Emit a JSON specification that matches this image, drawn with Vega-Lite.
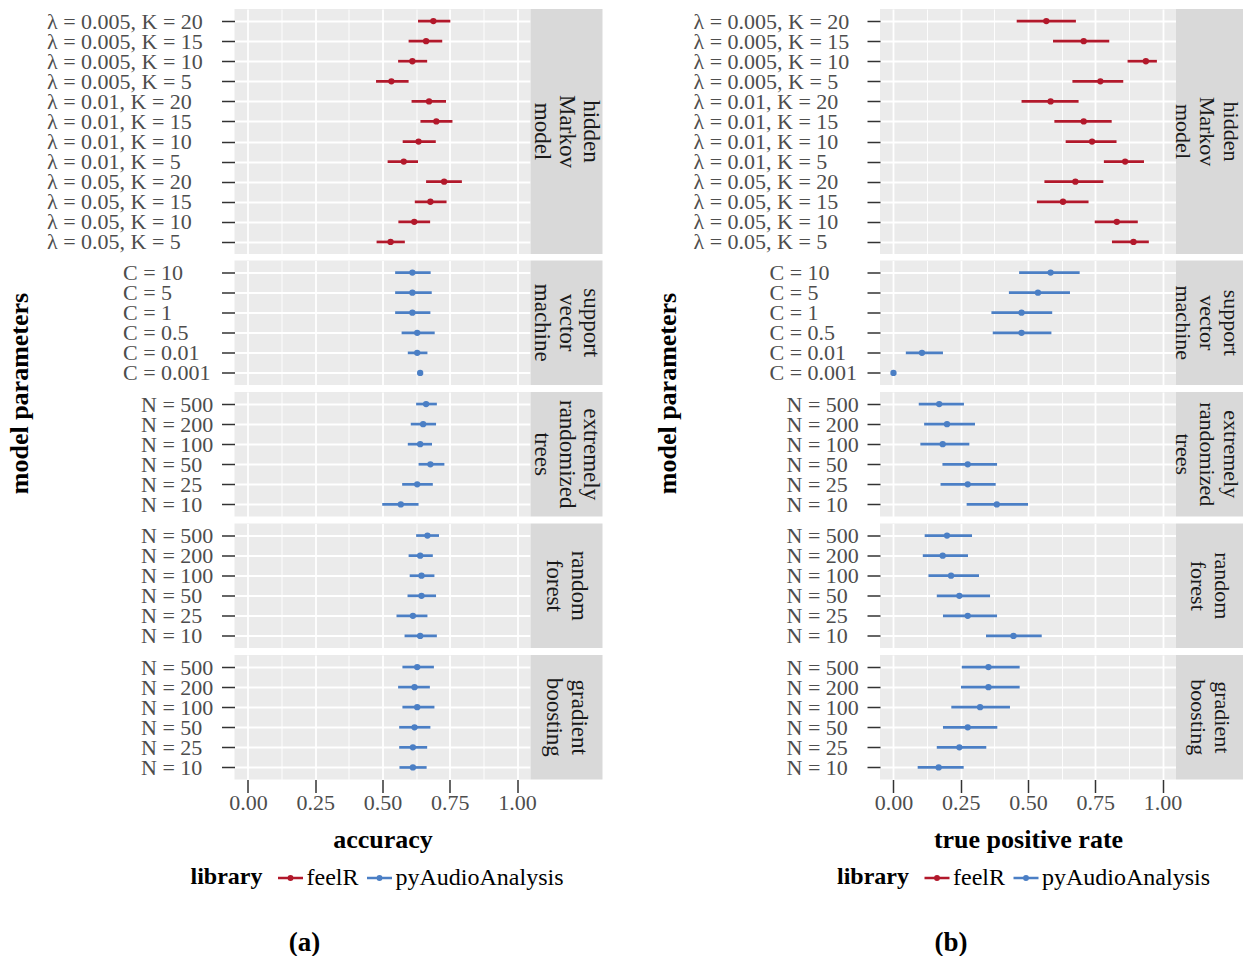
{
  "$schema": "https://vega.github.io/schema/vega-lite/v6.json",
  "padding": {"left": 6.5, "top": 9, "right": 0, "bottom": 0},
  "datasets": {
    "acc": [
      {"fig":"a","model":"HMM","lib":"feelR","param":"λ = 0.005, K = 20","est":0.689,"lo":0.632,"hi":0.752},
      {"fig":"a","model":"HMM","lib":"feelR","param":"λ = 0.005, K = 15","est":0.662,"lo":0.597,"hi":0.722},
      {"fig":"a","model":"HMM","lib":"feelR","param":"λ = 0.005, K = 10","est":0.611,"lo":0.558,"hi":0.666},
      {"fig":"a","model":"HMM","lib":"feelR","param":"λ = 0.005, K = 5","est":0.533,"lo":0.476,"hi":0.597},
      {"fig":"a","model":"HMM","lib":"feelR","param":"λ = 0.01, K = 20","est":0.673,"lo":0.608,"hi":0.736},
      {"fig":"a","model":"HMM","lib":"feelR","param":"λ = 0.01, K = 15","est":0.700,"lo":0.641,"hi":0.760},
      {"fig":"a","model":"HMM","lib":"feelR","param":"λ = 0.01, K = 10","est":0.634,"lo":0.575,"hi":0.698},
      {"fig":"a","model":"HMM","lib":"feelR","param":"λ = 0.01, K = 5","est":0.579,"lo":0.519,"hi":0.632},
      {"fig":"a","model":"HMM","lib":"feelR","param":"λ = 0.05, K = 20","est":0.729,"lo":0.662,"hi":0.795},
      {"fig":"a","model":"HMM","lib":"feelR","param":"λ = 0.05, K = 15","est":0.678,"lo":0.620,"hi":0.738},
      {"fig":"a","model":"HMM","lib":"feelR","param":"λ = 0.05, K = 10","est":0.618,"lo":0.559,"hi":0.677},
      {"fig":"a","model":"HMM","lib":"feelR","param":"λ = 0.05, K = 5","est":0.530,"lo":0.478,"hi":0.583},
      {"fig":"a","model":"SVM","lib":"pyAudioAnalysis","param":"C = 10","est":0.611,"lo":0.547,"hi":0.679},
      {"fig":"a","model":"SVM","lib":"pyAudioAnalysis","param":"C = 5","est":0.611,"lo":0.547,"hi":0.683},
      {"fig":"a","model":"SVM","lib":"pyAudioAnalysis","param":"C = 1","est":0.611,"lo":0.547,"hi":0.678},
      {"fig":"a","model":"SVM","lib":"pyAudioAnalysis","param":"C = 0.5","est":0.629,"lo":0.571,"hi":0.694},
      {"fig":"a","model":"SVM","lib":"pyAudioAnalysis","param":"C = 0.01","est":0.629,"lo":0.594,"hi":0.667},
      {"fig":"a","model":"SVM","lib":"pyAudioAnalysis","param":"C = 0.001","est":0.640,"lo":0.640,"hi":0.640},
      {"fig":"a","model":"ERT","lib":"pyAudioAnalysis","param":"N = 500","est":0.662,"lo":0.625,"hi":0.702},
      {"fig":"a","model":"ERT","lib":"pyAudioAnalysis","param":"N = 200","est":0.651,"lo":0.605,"hi":0.699},
      {"fig":"a","model":"ERT","lib":"pyAudioAnalysis","param":"N = 100","est":0.640,"lo":0.594,"hi":0.684},
      {"fig":"a","model":"ERT","lib":"pyAudioAnalysis","param":"N = 50","est":0.678,"lo":0.634,"hi":0.730},
      {"fig":"a","model":"ERT","lib":"pyAudioAnalysis","param":"N = 25","est":0.629,"lo":0.573,"hi":0.687},
      {"fig":"a","model":"ERT","lib":"pyAudioAnalysis","param":"N = 10","est":0.568,"lo":0.499,"hi":0.634},
      {"fig":"a","model":"RF","lib":"pyAudioAnalysis","param":"N = 500","est":0.667,"lo":0.625,"hi":0.710},
      {"fig":"a","model":"RF","lib":"pyAudioAnalysis","param":"N = 200","est":0.640,"lo":0.597,"hi":0.687},
      {"fig":"a","model":"RF","lib":"pyAudioAnalysis","param":"N = 100","est":0.645,"lo":0.601,"hi":0.693},
      {"fig":"a","model":"RF","lib":"pyAudioAnalysis","param":"N = 50","est":0.645,"lo":0.593,"hi":0.699},
      {"fig":"a","model":"RF","lib":"pyAudioAnalysis","param":"N = 25","est":0.613,"lo":0.552,"hi":0.667},
      {"fig":"a","model":"RF","lib":"pyAudioAnalysis","param":"N = 10","est":0.640,"lo":0.582,"hi":0.702},
      {"fig":"a","model":"GB","lib":"pyAudioAnalysis","param":"N = 500","est":0.629,"lo":0.574,"hi":0.691},
      {"fig":"a","model":"GB","lib":"pyAudioAnalysis","param":"N = 200","est":0.619,"lo":0.558,"hi":0.676},
      {"fig":"a","model":"GB","lib":"pyAudioAnalysis","param":"N = 100","est":0.629,"lo":0.574,"hi":0.693},
      {"fig":"a","model":"GB","lib":"pyAudioAnalysis","param":"N = 50","est":0.619,"lo":0.562,"hi":0.678},
      {"fig":"a","model":"GB","lib":"pyAudioAnalysis","param":"N = 25","est":0.613,"lo":0.562,"hi":0.666},
      {"fig":"a","model":"GB","lib":"pyAudioAnalysis","param":"N = 10","est":0.613,"lo":0.563,"hi":0.664},
      {"fig":"b","model":"HMM","lib":"feelR","param":"λ = 0.005, K = 20","est":0.568,"lo":0.458,"hi":0.678},
      {"fig":"b","model":"HMM","lib":"feelR","param":"λ = 0.005, K = 15","est":0.707,"lo":0.593,"hi":0.802},
      {"fig":"b","model":"HMM","lib":"feelR","param":"λ = 0.005, K = 10","est":0.938,"lo":0.870,"hi":0.979},
      {"fig":"b","model":"HMM","lib":"feelR","param":"λ = 0.005, K = 5","est":0.769,"lo":0.665,"hi":0.854},
      {"fig":"b","model":"HMM","lib":"feelR","param":"λ = 0.01, K = 20","est":0.584,"lo":0.476,"hi":0.688},
      {"fig":"b","model":"HMM","lib":"feelR","param":"λ = 0.01, K = 15","est":0.707,"lo":0.598,"hi":0.811},
      {"fig":"b","model":"HMM","lib":"feelR","param":"λ = 0.01, K = 10","est":0.738,"lo":0.640,"hi":0.829},
      {"fig":"b","model":"HMM","lib":"feelR","param":"λ = 0.01, K = 5","est":0.861,"lo":0.782,"hi":0.931},
      {"fig":"b","model":"HMM","lib":"feelR","param":"λ = 0.05, K = 20","est":0.676,"lo":0.561,"hi":0.780},
      {"fig":"b","model":"HMM","lib":"feelR","param":"λ = 0.05, K = 15","est":0.630,"lo":0.533,"hi":0.725},
      {"fig":"b","model":"HMM","lib":"feelR","param":"λ = 0.05, K = 10","est":0.830,"lo":0.748,"hi":0.908},
      {"fig":"b","model":"HMM","lib":"feelR","param":"λ = 0.05, K = 5","est":0.892,"lo":0.812,"hi":0.949},
      {"fig":"b","model":"SVM","lib":"pyAudioAnalysis","param":"C = 10","est":0.584,"lo":0.467,"hi":0.692},
      {"fig":"b","model":"SVM","lib":"pyAudioAnalysis","param":"C = 5","est":0.537,"lo":0.429,"hi":0.656},
      {"fig":"b","model":"SVM","lib":"pyAudioAnalysis","param":"C = 1","est":0.476,"lo":0.364,"hi":0.590},
      {"fig":"b","model":"SVM","lib":"pyAudioAnalysis","param":"C = 0.5","est":0.476,"lo":0.369,"hi":0.587},
      {"fig":"b","model":"SVM","lib":"pyAudioAnalysis","param":"C = 0.01","est":0.106,"lo":0.046,"hi":0.184},
      {"fig":"b","model":"SVM","lib":"pyAudioAnalysis","param":"C = 0.001","est":0.0,"lo":0.0,"hi":0.0},
      {"fig":"b","model":"ERT","lib":"pyAudioAnalysis","param":"N = 500","est":0.170,"lo":0.094,"hi":0.262},
      {"fig":"b","model":"ERT","lib":"pyAudioAnalysis","param":"N = 200","est":0.199,"lo":0.114,"hi":0.303},
      {"fig":"b","model":"ERT","lib":"pyAudioAnalysis","param":"N = 100","est":0.183,"lo":0.100,"hi":0.282},
      {"fig":"b","model":"ERT","lib":"pyAudioAnalysis","param":"N = 50","est":0.276,"lo":0.182,"hi":0.385},
      {"fig":"b","model":"ERT","lib":"pyAudioAnalysis","param":"N = 25","est":0.276,"lo":0.175,"hi":0.380},
      {"fig":"b","model":"ERT","lib":"pyAudioAnalysis","param":"N = 10","est":0.384,"lo":0.272,"hi":0.500},
      {"fig":"b","model":"RF","lib":"pyAudioAnalysis","param":"N = 500","est":0.199,"lo":0.116,"hi":0.292},
      {"fig":"b","model":"RF","lib":"pyAudioAnalysis","param":"N = 200","est":0.183,"lo":0.109,"hi":0.277},
      {"fig":"b","model":"RF","lib":"pyAudioAnalysis","param":"N = 100","est":0.214,"lo":0.130,"hi":0.318},
      {"fig":"b","model":"RF","lib":"pyAudioAnalysis","param":"N = 50","est":0.245,"lo":0.161,"hi":0.359},
      {"fig":"b","model":"RF","lib":"pyAudioAnalysis","param":"N = 25","est":0.276,"lo":0.184,"hi":0.385},
      {"fig":"b","model":"RF","lib":"pyAudioAnalysis","param":"N = 10","est":0.446,"lo":0.344,"hi":0.551},
      {"fig":"b","model":"GB","lib":"pyAudioAnalysis","param":"N = 500","est":0.353,"lo":0.254,"hi":0.469},
      {"fig":"b","model":"GB","lib":"pyAudioAnalysis","param":"N = 200","est":0.353,"lo":0.251,"hi":0.469},
      {"fig":"b","model":"GB","lib":"pyAudioAnalysis","param":"N = 100","est":0.322,"lo":0.215,"hi":0.433},
      {"fig":"b","model":"GB","lib":"pyAudioAnalysis","param":"N = 50","est":0.276,"lo":0.184,"hi":0.386},
      {"fig":"b","model":"GB","lib":"pyAudioAnalysis","param":"N = 25","est":0.245,"lo":0.161,"hi":0.345},
      {"fig":"b","model":"GB","lib":"pyAudioAnalysis","param":"N = 10","est":0.168,"lo":0.090,"hi":0.261}
    ],
    "strips": [
      {"model":"HMM","label":"hidden\nMarkov\nmodel"},
      {"model":"SVM","label":"support\nvector\nmachine"},
      {"model":"ERT","label":"extremely\nrandomized\ntrees"},
      {"model":"RF","label":"random\nforest"},
      {"model":"GB","label":"gradient\nboosting"}
    ]
  },
  "hconcat": [
    {
      "concat": [
        {"width":296,"height":245,"data":{"name":"acc"},"transform":[{"filter":"datum.fig=='a' && datum.model=='HMM'"}],
         "encoding":{"x":{"field":"est","type":"quantitative","scale":{"domain":[-0.05,1.05],"nice":false,"zero":false},"axis":{"title":null,"labels":false,"ticks":false,"domain":false,"values":[0,0.125,0.25,0.375,0.5,0.625,0.75,0.875,1],"gridWidth":{"condition":{"test":"datum.value*4 % 1 !== 0","value":0.9},"value":1.8}}},
                     "color":{"field":"lib","type":"nominal","scale":{"domain":["feelR","pyAudioAnalysis"],"range":["#B2182B","#4B7FC5"]},"legend":null}},
         "layer":[
           {"mark":{"type":"rule","strokeWidth":2.7},"encoding":{"x":{"field":"lo","type":"quantitative"},"x2":{"field":"hi"},"y":{"field":"param","type":"nominal","sort":null,"scale":{"type":"point","padding":0.6},"axis":{"title":null,"grid":true,"labelAlign":"left","labelPadding":175}}}},
           {"mark":{"type":"point","filled":true,"size":40,"opacity":1},"encoding":{"y":{"field":"param","type":"nominal","sort":null,"scale":{"type":"point","padding":0.6},"axis":{"title":null,"grid":true,"labelAlign":"left","labelPadding":175}}}},
           {"transform":[{"aggregate":[{"op":"count","as":"n"}]}],"mark":{"type":"rule","strokeDash":[4,4],"strokeWidth":1.5},"encoding":{"x":{"datum":0.538,"type":"quantitative"},"color":{"value":"#000000"}}}
         ]},
        {"width":72,"height":245,"data":{"name":"strips"},"transform":[{"filter":"datum.model=='HMM'"}],"view":{"fill":"#D9D9D9","stroke":null},
         "mark":{"type":"text","angle":90,"lineBreak":"\n","fontSize":23,"lineHeight":24.5,"dy":-24.5,"color":"#1A1A1A","align":"center","baseline":"middle"},"encoding":{"text":{"field":"label"}}},
        {"width":296,"height":124.5,"data":{"name":"acc"},"transform":[{"filter":"datum.fig=='a' && datum.model=='SVM'"}],
         "encoding":{"x":{"field":"est","type":"quantitative","scale":{"domain":[-0.05,1.05],"nice":false,"zero":false},"axis":{"title":null,"labels":false,"ticks":false,"domain":false,"values":[0,0.125,0.25,0.375,0.5,0.625,0.75,0.875,1],"gridWidth":{"condition":{"test":"datum.value*4 % 1 !== 0","value":0.9},"value":1.8}}},
                     "color":{"field":"lib","type":"nominal","scale":{"domain":["feelR","pyAudioAnalysis"],"range":["#B2182B","#4B7FC5"]},"legend":null}},
         "layer":[
           {"mark":{"type":"rule","strokeWidth":2.7},"encoding":{"x":{"field":"lo","type":"quantitative"},"x2":{"field":"hi"},"y":{"field":"param","type":"nominal","sort":null,"scale":{"type":"point","padding":0.6},"axis":{"title":"model parameters","titleX":-215,"titleY":132.5,"titleAngle":-90,"titleAlign":"center","titleBaseline":"middle","grid":true,"labelAlign":"left","labelPadding":99}}}},
           {"mark":{"type":"point","filled":true,"size":40,"opacity":1},"encoding":{"y":{"field":"param","type":"nominal","sort":null,"scale":{"type":"point","padding":0.6},"axis":{"title":"model parameters","titleX":-215,"titleY":132.5,"titleAngle":-90,"titleAlign":"center","titleBaseline":"middle","grid":true,"labelAlign":"left","labelPadding":99}}}},
           {"transform":[{"aggregate":[{"op":"count","as":"n"}]}],"mark":{"type":"rule","strokeDash":[4,4],"strokeWidth":1.5},"encoding":{"x":{"datum":0.538,"type":"quantitative"},"color":{"value":"#000000"}}}
         ]},
        {"width":72,"height":124.5,"data":{"name":"strips"},"transform":[{"filter":"datum.model=='SVM'"}],"view":{"fill":"#D9D9D9","stroke":null},
         "mark":{"type":"text","angle":90,"lineBreak":"\n","fontSize":23,"lineHeight":24.5,"dy":-24.5,"color":"#1A1A1A","align":"center","baseline":"middle"},"encoding":{"text":{"field":"label"}}},
        {"width":296,"height":124.5,"data":{"name":"acc"},"transform":[{"filter":"datum.fig=='a' && datum.model=='ERT'"}],
         "encoding":{"x":{"field":"est","type":"quantitative","scale":{"domain":[-0.05,1.05],"nice":false,"zero":false},"axis":{"title":null,"labels":false,"ticks":false,"domain":false,"values":[0,0.125,0.25,0.375,0.5,0.625,0.75,0.875,1],"gridWidth":{"condition":{"test":"datum.value*4 % 1 !== 0","value":0.9},"value":1.8}}},
                     "color":{"field":"lib","type":"nominal","scale":{"domain":["feelR","pyAudioAnalysis"],"range":["#B2182B","#4B7FC5"]},"legend":null}},
         "layer":[
           {"mark":{"type":"rule","strokeWidth":2.7},"encoding":{"x":{"field":"lo","type":"quantitative"},"x2":{"field":"hi"},"y":{"field":"param","type":"nominal","sort":null,"scale":{"type":"point","padding":0.6},"axis":{"title":null,"grid":true,"labelAlign":"left","labelPadding":81}}}},
           {"mark":{"type":"point","filled":true,"size":40,"opacity":1},"encoding":{"y":{"field":"param","type":"nominal","sort":null,"scale":{"type":"point","padding":0.6},"axis":{"title":null,"grid":true,"labelAlign":"left","labelPadding":81}}}},
           {"transform":[{"aggregate":[{"op":"count","as":"n"}]}],"mark":{"type":"rule","strokeDash":[4,4],"strokeWidth":1.5},"encoding":{"x":{"datum":0.538,"type":"quantitative"},"color":{"value":"#000000"}}}
         ]},
        {"width":72,"height":124.5,"data":{"name":"strips"},"transform":[{"filter":"datum.model=='ERT'"}],"view":{"fill":"#D9D9D9","stroke":null},
         "mark":{"type":"text","angle":90,"lineBreak":"\n","fontSize":23,"lineHeight":24.5,"dy":-24.5,"color":"#1A1A1A","align":"center","baseline":"middle"},"encoding":{"text":{"field":"label"}}},
        {"width":296,"height":124.5,"data":{"name":"acc"},"transform":[{"filter":"datum.fig=='a' && datum.model=='RF'"}],
         "encoding":{"x":{"field":"est","type":"quantitative","scale":{"domain":[-0.05,1.05],"nice":false,"zero":false},"axis":{"title":null,"labels":false,"ticks":false,"domain":false,"values":[0,0.125,0.25,0.375,0.5,0.625,0.75,0.875,1],"gridWidth":{"condition":{"test":"datum.value*4 % 1 !== 0","value":0.9},"value":1.8}}},
                     "color":{"field":"lib","type":"nominal","scale":{"domain":["feelR","pyAudioAnalysis"],"range":["#B2182B","#4B7FC5"]},"legend":null}},
         "layer":[
           {"mark":{"type":"rule","strokeWidth":2.7},"encoding":{"x":{"field":"lo","type":"quantitative"},"x2":{"field":"hi"},"y":{"field":"param","type":"nominal","sort":null,"scale":{"type":"point","padding":0.6},"axis":{"title":null,"grid":true,"labelAlign":"left","labelPadding":81}}}},
           {"mark":{"type":"point","filled":true,"size":40,"opacity":1},"encoding":{"y":{"field":"param","type":"nominal","sort":null,"scale":{"type":"point","padding":0.6},"axis":{"title":null,"grid":true,"labelAlign":"left","labelPadding":81}}}},
           {"transform":[{"aggregate":[{"op":"count","as":"n"}]}],"mark":{"type":"rule","strokeDash":[4,4],"strokeWidth":1.5},"encoding":{"x":{"datum":0.538,"type":"quantitative"},"color":{"value":"#000000"}}}
         ]},
        {"width":72,"height":124.5,"data":{"name":"strips"},"transform":[{"filter":"datum.model=='RF'"}],"view":{"fill":"#D9D9D9","stroke":null},
         "mark":{"type":"text","angle":90,"lineBreak":"\n","fontSize":23,"lineHeight":24.5,"dy":-12.25,"color":"#1A1A1A","align":"center","baseline":"middle"},"encoding":{"text":{"field":"label"}}},
        {"width":296,"height":124.5,"data":{"name":"acc"},"transform":[{"filter":"datum.fig=='a' && datum.model=='GB'"}],
         "encoding":{"x":{"field":"est","type":"quantitative","scale":{"domain":[-0.05,1.05],"nice":false,"zero":false},"axis":{"title":"accuracy","values":[0,0.125,0.25,0.375,0.5,0.625,0.75,0.875,1],"labelExpr":"datum.value*4 % 1 === 0 ? format(datum.value, '.2f') : ''","labelOverlap":false,"labelFlush":false,"labelPadding":0,"titlePadding":13,"tickOpacity":{"condition":{"test":"datum.value*4 % 1 !== 0","value":0},"value":1},"gridWidth":{"condition":{"test":"datum.value*4 % 1 !== 0","value":0.9},"value":1.8}}},
                     "color":{"field":"lib","type":"nominal","scale":{"domain":["feelR","pyAudioAnalysis"],"range":["#B2182B","#4B7FC5"]},
                              "legend":{"title":"library","orient":"none","legendX":-44,"legendY":209,"direction":"horizontal","titleOrient":"left","titleFontSize":24,"titleFontWeight":"bold","titleColor":"#000000","titlePadding":14,"labelFontSize":24,"labelColor":"#000000","labelLimit":400,"labelOffset":2,"columnPadding":3,"symbolType":"M-1,0H1M0.14,0A0.14,0.14,0,1,1,-0.14,0A0.14,0.14,0,1,1,0.14,0","symbolSize":625,"symbolStrokeWidth":2.5,"symbolOpacity":1}}},
         "layer":[
           {"mark":{"type":"rule","strokeWidth":2.7},"encoding":{"x":{"field":"lo","type":"quantitative"},"x2":{"field":"hi"},"y":{"field":"param","type":"nominal","sort":null,"scale":{"type":"point","padding":0.6},"axis":{"title":null,"grid":true,"labelAlign":"left","labelPadding":81}}}},
           {"mark":{"type":"point","filled":true,"size":40,"opacity":1},"encoding":{"y":{"field":"param","type":"nominal","sort":null,"scale":{"type":"point","padding":0.6},"axis":{"title":null,"grid":true,"labelAlign":"left","labelPadding":81}}}},
           {"transform":[{"aggregate":[{"op":"count","as":"n"}]}],"mark":{"type":"rule","strokeDash":[4,4],"strokeWidth":1.5},"encoding":{"x":{"datum":0.538,"type":"quantitative"},"color":{"value":"#000000"}}}
         ]},
        {"width":72,"height":124.5,"data":{"name":"strips"},"transform":[{"filter":"datum.model=='GB'"}],"view":{"fill":"#D9D9D9","stroke":null},
         "mark":{"type":"text","angle":90,"lineBreak":"\n","fontSize":23,"lineHeight":24.5,"dy":-12.25,"color":"#1A1A1A","align":"center","baseline":"middle"},"encoding":{"text":{"field":"label"}}}
      ],
      "columns": 2,
      "spacing": {"row": 6.5, "column": 0},
      "bounds": "flush",
      "align": "each",
      "resolve": {"legend": {"color": "independent"}},
      "title": {"text": "(a)", "orient": "bottom", "anchor": "middle", "fontSize": 27, "fontWeight": "bold", "color": "#000000", "offset": 40}
    },
    {
      "concat": [
        {"width":296,"height":245,"data":{"name":"acc"},"transform":[{"filter":"datum.fig=='b' && datum.model=='HMM'"}],
         "encoding":{"x":{"field":"est","type":"quantitative","scale":{"domain":[-0.05,1.05],"nice":false,"zero":false},"axis":{"title":null,"labels":false,"ticks":false,"domain":false,"values":[0,0.125,0.25,0.375,0.5,0.625,0.75,0.875,1],"gridWidth":{"condition":{"test":"datum.value*4 % 1 !== 0","value":0.9},"value":1.8}}},
                     "color":{"field":"lib","type":"nominal","scale":{"domain":["feelR","pyAudioAnalysis"],"range":["#B2182B","#4B7FC5"]},"legend":null}},
         "layer":[
           {"mark":{"type":"rule","strokeWidth":2.7},"encoding":{"x":{"field":"lo","type":"quantitative"},"x2":{"field":"hi"},"y":{"field":"param","type":"nominal","sort":null,"scale":{"type":"point","padding":0.6},"axis":{"title":null,"grid":true,"labelAlign":"left","labelPadding":174}}}},
           {"mark":{"type":"point","filled":true,"size":40,"opacity":1},"encoding":{"y":{"field":"param","type":"nominal","sort":null,"scale":{"type":"point","padding":0.6},"axis":{"title":null,"grid":true,"labelAlign":"left","labelPadding":174}}}},
           {"transform":[{"aggregate":[{"op":"count","as":"n"}]}],"mark":{"type":"rule","strokeDash":[4,4],"strokeWidth":1.5},"encoding":{"x":{"datum":0.359,"type":"quantitative"},"color":{"value":"#000000"}}}
         ]},
        {"width":72,"height":245,"data":{"name":"strips"},"transform":[{"filter":"datum.model=='HMM'"}],"view":{"fill":"#D9D9D9","stroke":null},
         "mark":{"type":"text","angle":90,"lineBreak":"\n","fontSize":22,"lineHeight":24,"dy":-19,"color":"#1A1A1A","align":"center","baseline":"middle"},"encoding":{"text":{"field":"label"}}},
        {"width":296,"height":124.5,"data":{"name":"acc"},"transform":[{"filter":"datum.fig=='b' && datum.model=='SVM'"}],
         "encoding":{"x":{"field":"est","type":"quantitative","scale":{"domain":[-0.05,1.05],"nice":false,"zero":false},"axis":{"title":null,"labels":false,"ticks":false,"domain":false,"values":[0,0.125,0.25,0.375,0.5,0.625,0.75,0.875,1],"gridWidth":{"condition":{"test":"datum.value*4 % 1 !== 0","value":0.9},"value":1.8}}},
                     "color":{"field":"lib","type":"nominal","scale":{"domain":["feelR","pyAudioAnalysis"],"range":["#B2182B","#4B7FC5"]},"legend":null}},
         "layer":[
           {"mark":{"type":"rule","strokeWidth":2.7},"encoding":{"x":{"field":"lo","type":"quantitative"},"x2":{"field":"hi"},"y":{"field":"param","type":"nominal","sort":null,"scale":{"type":"point","padding":0.6},"axis":{"title":"model parameters","titleX":-213,"titleY":132.5,"titleAngle":-90,"titleAlign":"center","titleBaseline":"middle","grid":true,"labelAlign":"left","labelPadding":98}}}},
           {"mark":{"type":"point","filled":true,"size":40,"opacity":1},"encoding":{"y":{"field":"param","type":"nominal","sort":null,"scale":{"type":"point","padding":0.6},"axis":{"title":"model parameters","titleX":-213,"titleY":132.5,"titleAngle":-90,"titleAlign":"center","titleBaseline":"middle","grid":true,"labelAlign":"left","labelPadding":98}}}},
           {"transform":[{"aggregate":[{"op":"count","as":"n"}]}],"mark":{"type":"rule","strokeDash":[4,4],"strokeWidth":1.5},"encoding":{"x":{"datum":0.359,"type":"quantitative"},"color":{"value":"#000000"}}}
         ]},
        {"width":72,"height":124.5,"data":{"name":"strips"},"transform":[{"filter":"datum.model=='SVM'"}],"view":{"fill":"#D9D9D9","stroke":null},
         "mark":{"type":"text","angle":90,"lineBreak":"\n","fontSize":22,"lineHeight":24,"dy":-19,"color":"#1A1A1A","align":"center","baseline":"middle"},"encoding":{"text":{"field":"label"}}},
        {"width":296,"height":124.5,"data":{"name":"acc"},"transform":[{"filter":"datum.fig=='b' && datum.model=='ERT'"}],
         "encoding":{"x":{"field":"est","type":"quantitative","scale":{"domain":[-0.05,1.05],"nice":false,"zero":false},"axis":{"title":null,"labels":false,"ticks":false,"domain":false,"values":[0,0.125,0.25,0.375,0.5,0.625,0.75,0.875,1],"gridWidth":{"condition":{"test":"datum.value*4 % 1 !== 0","value":0.9},"value":1.8}}},
                     "color":{"field":"lib","type":"nominal","scale":{"domain":["feelR","pyAudioAnalysis"],"range":["#B2182B","#4B7FC5"]},"legend":null}},
         "layer":[
           {"mark":{"type":"rule","strokeWidth":2.7},"encoding":{"x":{"field":"lo","type":"quantitative"},"x2":{"field":"hi"},"y":{"field":"param","type":"nominal","sort":null,"scale":{"type":"point","padding":0.6},"axis":{"title":null,"grid":true,"labelAlign":"left","labelPadding":81}}}},
           {"mark":{"type":"point","filled":true,"size":40,"opacity":1},"encoding":{"y":{"field":"param","type":"nominal","sort":null,"scale":{"type":"point","padding":0.6},"axis":{"title":null,"grid":true,"labelAlign":"left","labelPadding":81}}}},
           {"transform":[{"aggregate":[{"op":"count","as":"n"}]}],"mark":{"type":"rule","strokeDash":[4,4],"strokeWidth":1.5},"encoding":{"x":{"datum":0.359,"type":"quantitative"},"color":{"value":"#000000"}}}
         ]},
        {"width":72,"height":124.5,"data":{"name":"strips"},"transform":[{"filter":"datum.model=='ERT'"}],"view":{"fill":"#D9D9D9","stroke":null},
         "mark":{"type":"text","angle":90,"lineBreak":"\n","fontSize":22,"lineHeight":24,"dy":-19,"color":"#1A1A1A","align":"center","baseline":"middle"},"encoding":{"text":{"field":"label"}}},
        {"width":296,"height":124.5,"data":{"name":"acc"},"transform":[{"filter":"datum.fig=='b' && datum.model=='RF'"}],
         "encoding":{"x":{"field":"est","type":"quantitative","scale":{"domain":[-0.05,1.05],"nice":false,"zero":false},"axis":{"title":null,"labels":false,"ticks":false,"domain":false,"values":[0,0.125,0.25,0.375,0.5,0.625,0.75,0.875,1],"gridWidth":{"condition":{"test":"datum.value*4 % 1 !== 0","value":0.9},"value":1.8}}},
                     "color":{"field":"lib","type":"nominal","scale":{"domain":["feelR","pyAudioAnalysis"],"range":["#B2182B","#4B7FC5"]},"legend":null}},
         "layer":[
           {"mark":{"type":"rule","strokeWidth":2.7},"encoding":{"x":{"field":"lo","type":"quantitative"},"x2":{"field":"hi"},"y":{"field":"param","type":"nominal","sort":null,"scale":{"type":"point","padding":0.6},"axis":{"title":null,"grid":true,"labelAlign":"left","labelPadding":81}}}},
           {"mark":{"type":"point","filled":true,"size":40,"opacity":1},"encoding":{"y":{"field":"param","type":"nominal","sort":null,"scale":{"type":"point","padding":0.6},"axis":{"title":null,"grid":true,"labelAlign":"left","labelPadding":81}}}},
           {"transform":[{"aggregate":[{"op":"count","as":"n"}]}],"mark":{"type":"rule","strokeDash":[4,4],"strokeWidth":1.5},"encoding":{"x":{"datum":0.359,"type":"quantitative"},"color":{"value":"#000000"}}}
         ]},
        {"width":72,"height":124.5,"data":{"name":"strips"},"transform":[{"filter":"datum.model=='RF'"}],"view":{"fill":"#D9D9D9","stroke":null},
         "mark":{"type":"text","angle":90,"lineBreak":"\n","fontSize":22,"lineHeight":24,"dy":-10,"color":"#1A1A1A","align":"center","baseline":"middle"},"encoding":{"text":{"field":"label"}}},
        {"width":296,"height":124.5,"data":{"name":"acc"},"transform":[{"filter":"datum.fig=='b' && datum.model=='GB'"}],
         "encoding":{"x":{"field":"est","type":"quantitative","scale":{"domain":[-0.05,1.05],"nice":false,"zero":false},"axis":{"title":"true positive rate","values":[0,0.125,0.25,0.375,0.5,0.625,0.75,0.875,1],"labelExpr":"datum.value*4 % 1 === 0 ? format(datum.value, '.2f') : ''","labelOverlap":false,"labelFlush":false,"labelPadding":0,"titlePadding":13,"tickOpacity":{"condition":{"test":"datum.value*4 % 1 !== 0","value":0},"value":1},"gridWidth":{"condition":{"test":"datum.value*4 % 1 !== 0","value":0.9},"value":1.8}}},
                     "color":{"field":"lib","type":"nominal","scale":{"domain":["feelR","pyAudioAnalysis"],"range":["#B2182B","#4B7FC5"]},
                              "legend":{"title":"library","orient":"none","legendX":-43,"legendY":209,"direction":"horizontal","titleOrient":"left","titleFontSize":24,"titleFontWeight":"bold","titleColor":"#000000","titlePadding":14,"labelFontSize":24,"labelColor":"#000000","labelLimit":400,"labelOffset":2,"columnPadding":3,"symbolType":"M-1,0H1M0.14,0A0.14,0.14,0,1,1,-0.14,0A0.14,0.14,0,1,1,0.14,0","symbolSize":625,"symbolStrokeWidth":2.5,"symbolOpacity":1}}},
         "layer":[
           {"mark":{"type":"rule","strokeWidth":2.7},"encoding":{"x":{"field":"lo","type":"quantitative"},"x2":{"field":"hi"},"y":{"field":"param","type":"nominal","sort":null,"scale":{"type":"point","padding":0.6},"axis":{"title":null,"grid":true,"labelAlign":"left","labelPadding":81}}}},
           {"mark":{"type":"point","filled":true,"size":40,"opacity":1},"encoding":{"y":{"field":"param","type":"nominal","sort":null,"scale":{"type":"point","padding":0.6},"axis":{"title":null,"grid":true,"labelAlign":"left","labelPadding":81}}}},
           {"transform":[{"aggregate":[{"op":"count","as":"n"}]}],"mark":{"type":"rule","strokeDash":[4,4],"strokeWidth":1.5},"encoding":{"x":{"datum":0.359,"type":"quantitative"},"color":{"value":"#000000"}}}
         ]},
        {"width":72,"height":124.5,"data":{"name":"strips"},"transform":[{"filter":"datum.model=='GB'"}],"view":{"fill":"#D9D9D9","stroke":null},
         "mark":{"type":"text","angle":90,"lineBreak":"\n","fontSize":22,"lineHeight":24,"dy":-10,"color":"#1A1A1A","align":"center","baseline":"middle"},"encoding":{"text":{"field":"label"}}}
      ],
      "columns": 2,
      "spacing": {"row": 6.5, "column": 0},
      "bounds": "flush",
      "align": "each",
      "resolve": {"legend": {"color": "independent"}},
      "title": {"text": "(b)", "orient": "bottom", "anchor": "middle", "fontSize": 27, "fontWeight": "bold", "color": "#000000", "offset": 40}
    }
  ],
  "spacing": 51.5,
  "resolve": {"legend": {"color": "independent"}},
  "config": {
    "font": "Liberation Serif",
    "view": {"fill": "#EBEBEB", "stroke": null},
    "axis": {"labelFont": "Liberation Serif", "labelFontSize": 22, "labelColor": "#4D4D4D", "labelLimit": 400, "tickColor": "#333333", "tickWidth": 1.5, "tickSize": 13, "domain": false, "gridColor": "#FFFFFF", "gridWidth": 1.8, "titleFont": "Liberation Serif", "titleFontSize": 26, "titleFontWeight": "bold", "titleColor": "#000000"},
    "legend": {"labelFont": "Liberation Serif", "titleFont": "Liberation Serif"},
    "title": {"font": "Liberation Serif"}
  }
}
